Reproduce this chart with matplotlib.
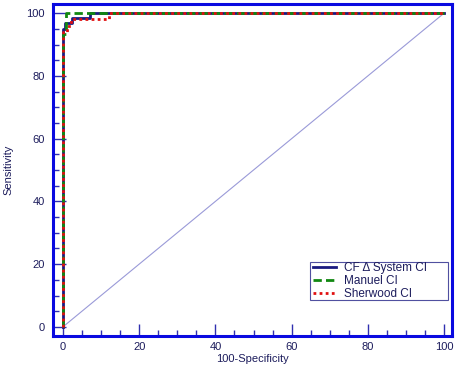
import matplotlib.pyplot as plt
from matplotlib.patches import Rectangle
from matplotlib.ticker import MultipleLocator

plt.rcParams['font.family'] = ['Liberation Sans', 'DejaVu Sans']

# ROC step curves (100-Specificity, Sensitivity)
cf_x = [0, 0, 0.5, 0.5, 2.4, 2.4, 7, 7, 100]
cf_y = [0, 95, 95, 96.8, 96.8, 98.4, 98.4, 100, 100]
manuel_x = [0, 0, 0.8, 0.8, 100]
manuel_y = [0, 93.5, 93.5, 100, 100]
sher_x = [0, 0, 1, 1, 2, 2, 12, 12, 100]
sher_y = [0, 94, 94, 96, 96, 98, 98, 100, 100]
diag = [0, 100]

txt = '#1c1c5c'
fig = plt.figure(figsize=(4.59, 3.68), dpi=100)
ax = fig.add_axes([0.1155, 0.087, 0.8695, 0.902])

ax.plot(diag, diag, color='#9a9ad8', lw=0.8)
ax.plot(cf_x, cf_y, color='#1a1a80', lw=2, label='CF \u0394 System CI')
ax.plot(manuel_x, manuel_y, color='#118811', lw=2, ls=(0, (3, 1.5)), label='Manuel CI')
ax.plot(sher_x, sher_y, color='#e01010', lw=2, ls=(0, (1, 1.2)), label='Sherwood CI')

ax.set_xlim(-2.6, 102.1)
ax.set_ylim(-2.9, 102.9)
ax.xaxis.set_major_locator(MultipleLocator(20))
ax.xaxis.set_minor_locator(MultipleLocator(5))
ax.yaxis.set_major_locator(MultipleLocator(20))
ax.yaxis.set_minor_locator(MultipleLocator(5))
ax.tick_params(which='both', direction='in', color='#3030b0', labelcolor=txt, labelsize=8)
ax.tick_params(which='major', length=9, width=1)
ax.tick_params(which='minor', length=4, width=1)
ax.tick_params(axis='y', pad=6)
ax.tick_params(axis='x', pad=4)

for s in ax.spines.values():
    s.set_color('#0a0ae0')
    s.set_linewidth(2.2)

ax.set_xlabel('100-Specificity', color=txt, fontsize=8, labelpad=2)
ax.set_ylabel('Sensitivity', color=txt, fontsize=8, labelpad=9)

# legend box drawn separately so it can be wider than its contents
ax.add_patch(Rectangle((0.644, 0.108), 0.346, 0.115, transform=ax.transAxes,
                       facecolor='white', edgecolor='#5050a0', lw=0.8, zorder=4))
leg = ax.legend(loc='center left', bbox_to_anchor=(0.652, 0.1655), fontsize=8.5,
                frameon=False, handlelength=1.9, handletextpad=0.7,
                borderpad=0, labelspacing=0.05, borderaxespad=0)
leg.set_zorder(5)
for t in leg.get_texts():
    t.set_color(txt)

fig.savefig('out.png', dpi=100)
